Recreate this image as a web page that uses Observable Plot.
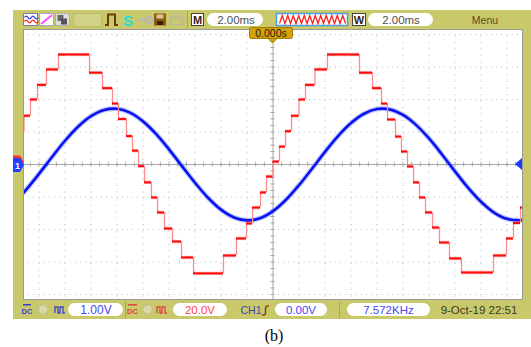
<!DOCTYPE html>
<html><head><meta charset="utf-8">
<script src="https://cdn.jsdelivr.net/npm/d3@7"></script>
<script src="https://cdn.jsdelivr.net/npm/@observablehq/plot@0.6"></script>
<style>
body{margin:0;background:#fff;}
#wrap{position:relative;width:531px;height:347px;overflow:hidden;font-family:"Liberation Sans",Arial,sans-serif;}
#olive{position:absolute;left:13px;top:10px;width:518px;height:309px;background:#c9c96b;}
#chart{position:absolute;left:0;top:0;}
#deco{position:absolute;left:0;top:0;}
</style></head>
<body>
<div id="wrap">
<div id="olive"></div>
<div id="chart"></div>
<svg id="deco" width="531" height="347" font-family="Liberation Sans, Arial, sans-serif">
  <!-- top bar -->
  <rect x="23.5" y="13.5" width="14" height="12" fill="#fff" stroke="#7a7ab8"/>
  <path d="M24.5,17.5 q1.7,-2.6 3.4,0 t3.4,0 t3.4,0 t3.4,0" stroke="#3030ff" stroke-width="1.3" fill="none"/>
  <path d="M24.5,21.5 q1.7,-2.6 3.4,0 t3.4,0 t3.4,0 t3.4,0" stroke="#ff2020" stroke-width="1.3" fill="none"/>
  <rect x="39.5" y="13.5" width="14" height="12" fill="#fff" stroke="#a0a0c8"/>
  <line x1="41" y1="24" x2="52" y2="15" stroke="#ff50ff" stroke-width="2"/>
  <rect x="55.5" y="13.5" width="14" height="12" fill="#dcdcdc" stroke="#b0b0b0"/>
  <rect x="57.5" y="15" width="6" height="6" fill="#666"/>
  <rect x="61" y="18.5" width="6" height="6" fill="#555"/>
  <rect x="73.5" y="13.5" width="28" height="13" fill="#d2d286" stroke="#bcbc66"/>
  <polyline points="105,25 108,25 108,14.5 115,14.5 115,25 118,25" stroke="#6a3a0a" stroke-width="2" fill="none"/>
  <text x="128" y="25.5" text-anchor="middle" font-size="15" font-weight="bold" fill="#22dcdc">S</text>
  <line x1="138" y1="20" x2="146" y2="20" stroke="#b8b8b0" stroke-width="2.5"/>
  <circle cx="149.5" cy="20" r="3" fill="none" stroke="#b8b8b0" stroke-width="2"/>
  <rect x="154" y="13.5" width="12" height="12" fill="#8a5a18"/>
  <rect x="156.5" y="14.5" width="7" height="4" fill="#d8c890"/>
  <rect x="157" y="21" width="6" height="4" fill="#3a2000"/>
  <rect x="170.5" y="17.5" width="12" height="7" fill="none" stroke="#b9b99a" stroke-width="1.5"/>
  <rect x="173" y="13.5" width="7" height="4" fill="none" stroke="#b9b99a" stroke-width="1.2"/>
  <line x1="187.5" y1="11" x2="187.5" y2="28" stroke="#aaa858"/>
  <rect x="191.5" y="13.5" width="12" height="12" fill="#fff" stroke="#444"/>
  <text x="197.5" y="24" text-anchor="middle" font-size="11" font-weight="bold" fill="#3a1a1a">M</text>
  <rect x="207" y="13" width="56" height="13" rx="6.5" fill="#fff"/>
  <text x="236" y="23.5" text-anchor="middle" font-size="11.5" fill="#505050">2.00ms</text>
  <rect x="276.5" y="13.5" width="71" height="12" fill="#fff" stroke="#4aa0e8" stroke-width="1.5"/>
  <polyline id="zig" fill="none" stroke="#ff2020" stroke-width="1.3"/>
  <rect x="352.5" y="13.5" width="13" height="12" fill="#fff" stroke="#444"/>
  <text x="359" y="24" text-anchor="middle" font-size="11" font-weight="bold" fill="#3a1a1a">W</text>
  <rect x="368" y="13" width="65" height="13" rx="6.5" fill="#fff"/>
  <text x="401" y="23.5" text-anchor="middle" font-size="11.5" fill="#505050">2.00ms</text>
  <text x="485" y="23.5" text-anchor="middle" font-size="10.5" fill="#5a4a28">Menu</text>
  <!-- trigger position marker -->
  <rect x="249.5" y="27.5" width="43" height="11" rx="2" fill="#d4a20a" stroke="#a07800"/>
  <path d="M268,38.5 L272.5,43 L277,38.5 Z" fill="#d4a20a" stroke="#a07800"/>
  <text x="271" y="36.5" text-anchor="middle" font-size="10.5" fill="#2a1a00">0.000s</text>
  <!-- channel markers -->
  <path d="M13,155.5 L20,155.5 L24,162 L20,168.5 L13,168.5 Z" fill="#ff3030"/>
  <path d="M13,158 L20,158 L24,165 L20,172 L13,172 Z" fill="#2040ff"/>
  <text x="17.5" y="169" text-anchor="middle" font-size="9" font-weight="bold" fill="#fff">1</text>
  <path d="M522,158 L515,164 L522,170 Z" fill="#1a3aff"/>
  <!-- bottom bar -->
  <rect x="23" y="304" width="8" height="1.5" fill="#4040d0"/>
  <text x="27" y="314" text-anchor="middle" font-size="7.5" font-weight="bold" fill="#4040d0">DC</text>
  <circle cx="43" cy="309.5" r="4.5" fill="#d8d8a8" stroke="#c0c098"/>
  <path d="M55,313 v-6 h3 v6 h2 v-6 h3 v6 h2" stroke="#4040d0" stroke-width="1.3" fill="none"/>
  <rect x="68" y="303" width="55" height="13" rx="6.5" fill="#fff"/>
  <text x="96" y="313.5" text-anchor="middle" font-size="12" fill="#4848f0">1.00V</text>
  <line x1="125.5" y1="301" x2="125.5" y2="318" stroke="#aaa858"/>
  <rect x="128" y="304" width="9" height="1.5" fill="#e04444"/>
  <text x="132.5" y="314" text-anchor="middle" font-size="7.5" font-weight="bold" fill="#e04444">DC</text>
  <circle cx="147.5" cy="309.5" r="4.5" fill="#d8d8a8" stroke="#c0c098"/>
  <path d="M157,313 v-6 h3 v6 h2 v-6 h3 v6 h2" stroke="#e04444" stroke-width="1.3" fill="none"/>
  <rect x="173" y="303" width="54" height="13" rx="6.5" fill="#fff"/>
  <text x="200" y="313.5" text-anchor="middle" font-size="11.5" fill="#ff4848">20.0V</text>
  <text x="251" y="313.5" text-anchor="middle" font-size="10.5" fill="#4444aa">CH1</text>
  <path d="M262,315 h2 q1.5,0 1.5,-3 v-3 q0,-3 2,-3 h1.5" stroke="#8a4a10" stroke-width="1.5" fill="none"/>
  <rect x="275" y="303" width="52" height="13" rx="6.5" fill="#fff"/>
  <text x="301" y="313.5" text-anchor="middle" font-size="11.5" fill="#4848f0">0.00V</text>
  <line x1="339.5" y1="301" x2="339.5" y2="318" stroke="#aaa858"/>
  <rect x="347" y="303" width="83" height="13" rx="6.5" fill="#fff"/>
  <text x="388.5" y="313.5" text-anchor="middle" font-size="11.5" fill="#4848f0">7.572KHz</text>
  <text x="479" y="313.5" text-anchor="middle" font-size="11.5" fill="#3a3a20">9-Oct-19 22:51</text>
  <!-- caption -->
  <text x="274" y="341" text-anchor="middle" font-size="16" font-family="Liberation Serif, Times New Roman, serif" fill="#000">(b)</text>
</svg>
</div>
<script>
// ---- data ----
// time axis: ms, 0 at trigger (screen centre); vertical: volts
const timePerGridMs = 1;          // dotted grid spacing (ms)
const blueVoltsPerDiv = 1.0;      // CH1 1.00V/div
const redVoltsPerDiv = 20.0;      // CH2 20.0V/div
const xDomainMs = [-9.596, 9.596];
const yDomainDiv = [-4.154, 4.154];
const gridXms = [-9,-8,-7,-6,-5,-4,-3,-2,-1,1,2,3,4,5,6,7,8,9];
const gridYdiv = [-4,-3,-2,-1,1,2,3,4];

// CH2 (red) stepped multilevel voltage: step start times (ms) and levels (V)
const redT = [-9.904,-9.577,-9.327,-9.058,-8.712,-8.250,-7.058,-6.558,-6.173,-5.942,-5.635,-5.404,-5.173,-4.942,-4.673,-4.442,-4.173,-3.865,-3.519,-3.058,-1.904,-1.404,-1.019,-0.788,-0.481,-0.250,0,0.250,0.481,0.712,1.000,1.250,1.615,2.096,3.327,3.827,4.173,4.404,4.712,4.942,5.173,5.404,5.635,5.865,6.135,6.404,6.788,7.250,8.481,8.981,9.250,9.519,9.904];
const redV = [19.5,30,40,49,58.5,67.7,56.5,47,37.5,28,17.5,8.5,-1,-11,-20.3,-29.5,-39.4,-47.4,-57.2,-67,-56,-45.5,-36.3,-26.5,-17.2,-7.4,1.8,11,20.5,30,40,49,58.5,67.7,56.5,47,37.5,27.7,17.2,8,-1.2,-11,-20.3,-29.5,-38.8,-48,-57.8,-66.5,-56,-45.5,-36,-26.5];

// CH1 (blue) sinusoidal trace samples
const blueT = [-9.6,-9.5,-9.0,-8.5,-8.0,-7.5,-7.0,-6.5,-6.0,-5.5,-5.0,-4.5,-4.0,-3.5,-3.0,-2.5,-2.0,-1.5,-1.0,-0.5,0,0.5,1.0,1.5,2.0,2.5,3.0,3.5,4.0,4.5,5.0,5.5,6.0,6.5,7.0,7.5,8.0,8.5,9.0,9.5,9.6];
const blueV = [-0.875,-0.783,-0.289,0.231,0.730,1.162,1.488,1.678,1.714,1.594,1.327,0.940,0.466,-0.051,-0.562,-1.023,-1.389,-1.629,-1.720,-1.653,-1.435,-1.085,-0.637,-0.130,0.389,0.872,1.275,1.562,1.706,1.694,1.526,1.219,0.801,0.309,-0.211,-0.712,-1.147,-1.478,-1.673,-1.716,-1.705];

// ---- tables for Plot ----
const redSegs = redV.map((v,i)=>({t0:redT[i], t1:redT[i+1], v:v/redVoltsPerDiv}));
const redEdges = redV.slice(1).map((v,i)=>({t:redT[i+1], a:redV[i]/redVoltsPerDiv, b:v/redVoltsPerDiv}));
const blue = blueT.map((t,i)=>({t, v:blueV[i]/blueVoltsPerDiv}));
const hTicks = d3.range(-28,29).map(k=>k/3).filter(v=>Math.abs(v)<9.59);
const vTicks = d3.range(-20,21).map(k=>k*0.2);

const chart = Plot.plot({
  width:531, height:347,
  marginTop:29, marginRight:9, marginBottom:48, marginLeft:23,
  style:{background:"transparent"},
  x:{domain:xDomainMs, axis:null},
  y:{domain:yDomainDiv, axis:null},
  marks:[
    Plot.frame({fill:"#ffffff"}),
    Plot.ruleX(gridXms, {stroke:"#b9b9b9", strokeDasharray:"1,5.5"}),
    Plot.ruleY(gridYdiv, {stroke:"#b9b9b9", strokeDasharray:"1,4.2"}),
    Plot.ruleX([0], {stroke:"#a6a6a6"}),
    Plot.ruleY([0], {stroke:"#a6a6a6"}),
    Plot.ruleX(hTicks, {x:d=>d, y1:-0.07, y2:0.07, stroke:"#a6a6a6"}),
    Plot.ruleY(vTicks, {y:d=>d, x1:-0.08, x2:0.08, stroke:"#a6a6a6"}),
    Plot.line(blue, {x:"t", y:"v", stroke:"#4a66ff", strokeWidth:5, strokeOpacity:0.35, curve:"catmull-rom", clip:true}),
    Plot.line(blue, {x:"t", y:"v", stroke:"#0a12f0", strokeWidth:2.6, curve:"catmull-rom", clip:true}),
    Plot.ruleX(redEdges, {x:"t", y1:"a", y2:"b", stroke:"#ff8c8c", strokeWidth:1.3, clip:true}),
    Plot.ruleY(redSegs, {y:"v", x1:"t0", x2:"t1", stroke:"#ff3030", strokeWidth:3.4, strokeOpacity:0.35, clip:true}),
    Plot.ruleY(redSegs, {y:"v", x1:"t0", x2:"t1", stroke:"#ff0a0a", strokeWidth:2, clip:true}),
    Plot.frame({stroke:"#9a9a9a"})
  ]
});
document.getElementById("chart").appendChild(chart);

// decorative zigzag icon in the top bar
const zig = [];
for (let i=0;i<=24;i++) zig.push((279.5+i*2.75)+","+(i%2?15.5:23.5));
document.getElementById("zig").setAttribute("points", zig.join(" "));
</script>
</body></html>
